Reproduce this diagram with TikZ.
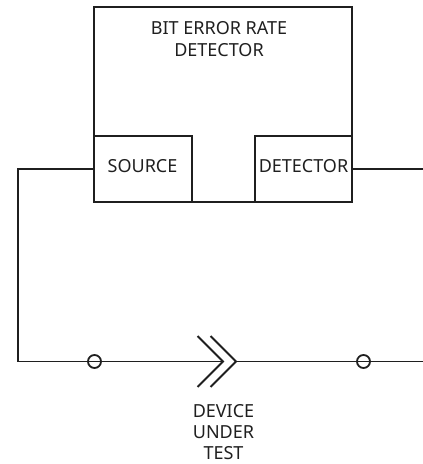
\documentclass[tikz,border=0pt]{standalone}
\usepackage{fontspec}
\setmainfont{Noto Sans}
\definecolor{inkcol}{gray}{0.12}
\tikzset{
  wire/.style={line width=1.8bp,draw=inkcol},
  unit/.style={draw=inkcol,line width=1.8bp,inner sep=0pt},
  pin/.style={circle,draw=inkcol,line width=1.8bp,minimum size=13bp,inner sep=0pt},
  caption/.style={align=center,text=inkcol,font=\fontsize{18bp}{22bp}\selectfont,inner sep=0pt},
}
\begin{document}
\begin{tikzpicture}[line join=miter]
  \useasboundingbox (0bp,0bp) rectangle (423bp,464bp);
  % Node: tester
  \node [unit,minimum width=258bp,minimum height=195bp] (tester) at (223.0bp,359.5bp) {};
  \node [caption] (testerlabel) at (219.0bp,425.0bp) {BIT ERROR RATE\\DETECTOR};
  % Node: source
  \node [unit,minimum width=98bp,minimum height=66bp] (source) at (143.0bp,295.0bp) {};
  \node [caption] (sourcelabel) at (142.5bp,298.0bp) {SOURCE};
  % Node: detector
  \node [unit,minimum width=97bp,minimum height=66bp] (detector) at (303.5bp,295.0bp) {};
  \node [caption] (detectorlabel) at (303.5bp,298.0bp) {DETECTOR};
  % Node: pins
  \node [pin] (pinl) at (94.5bp,102.5bp) {};
  \node [pin] (pinr) at (363.5bp,102.5bp) {};
  % Node: dut
  \node [caption,font=\fontsize{18bp}{21bp}\selectfont] (dutlabel) at (223.5bp,31.5bp) {DEVICE\\UNDER\\TEST};
  \coordinate (bendl) at (18.0bp,102.5bp);
  \coordinate (endr) at (423.0bp,102.5bp);
  \coordinate (endt) at (423.0bp,295.0bp);
  \coordinate (innerc) at (223.0bp,102.5bp);
  \coordinate (outerc) at (236.0bp,102.5bp);
  \coordinate (innert) at (197.5bp,128.0bp);
  \coordinate (innerb) at (197.5bp,77.0bp);
  \coordinate (outert) at (210.5bp,128.0bp);
  \coordinate (outerb) at (210.5bp,77.0bp);
  % Edge: source -> dut
  \draw [wire] (source.west) -| (bendl) -- (innerc);
  \draw [wire] (innert) -- (innerc) -- (innerb);
  \draw [wire] (outert) -- (outerc) -- (outerb);
  % Edge: dut -> detector
  \draw [wire] (outerc) -- (endr);
  \draw [wire] (detector.east) -- (endt);
\end{tikzpicture}
\end{document}
